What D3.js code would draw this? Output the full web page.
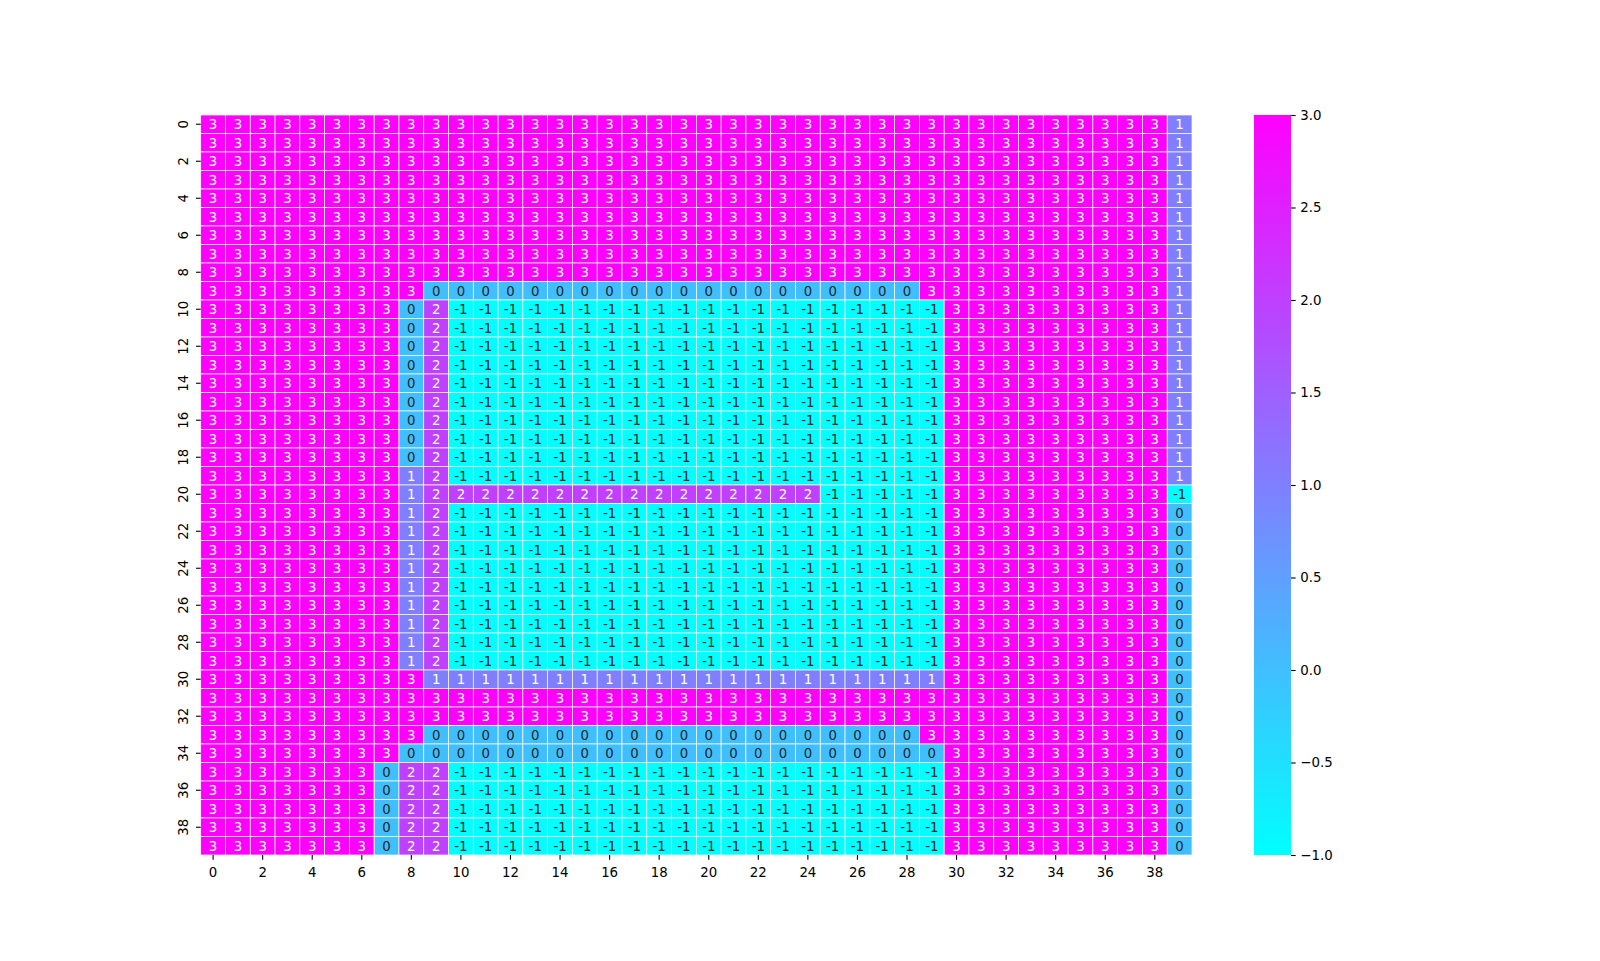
<!DOCTYPE html>
<html>
<head>
<meta charset="utf-8">
<script src="https://cdn.jsdelivr.net/npm/d3@7"></script>
<style>
  html, body { margin: 0; padding: 0; background: #fff; }
  svg { display: block; font-family: "DejaVu Sans", sans-serif; }
</style>
</head>
<body>
<svg id="chart" width="1600" height="961"></svg>
<script>
// ---- data ----
const rowLabels = d3.range(40);          // row indices 0..39
const colLabels = d3.range(40);          // column indices 0..39
const xTickLabels = ["0","2","4","6","8","10","12","14","16","18","20","22","24","26","28","30","32","34","36","38"];
const yTickLabels = ["0","2","4","6","8","10","12","14","16","18","20","22","24","26","28","30","32","34","36","38"];
const cbarTicks = [-1.0, -0.5, 0.0, 0.5, 1.0, 1.5, 2.0, 2.5, 3.0];

const values = [
  [3,3,3,3,3,3,3,3,3,3, 3,3,3,3,3,3,3,3,3,3, 3,3,3,3,3,3,3,3,3,3, 3,3,3,3,3,3,3,3,3,1], // 0
  [3,3,3,3,3,3,3,3,3,3, 3,3,3,3,3,3,3,3,3,3, 3,3,3,3,3,3,3,3,3,3, 3,3,3,3,3,3,3,3,3,1], // 1
  [3,3,3,3,3,3,3,3,3,3, 3,3,3,3,3,3,3,3,3,3, 3,3,3,3,3,3,3,3,3,3, 3,3,3,3,3,3,3,3,3,1], // 2
  [3,3,3,3,3,3,3,3,3,3, 3,3,3,3,3,3,3,3,3,3, 3,3,3,3,3,3,3,3,3,3, 3,3,3,3,3,3,3,3,3,1], // 3
  [3,3,3,3,3,3,3,3,3,3, 3,3,3,3,3,3,3,3,3,3, 3,3,3,3,3,3,3,3,3,3, 3,3,3,3,3,3,3,3,3,1], // 4
  [3,3,3,3,3,3,3,3,3,3, 3,3,3,3,3,3,3,3,3,3, 3,3,3,3,3,3,3,3,3,3, 3,3,3,3,3,3,3,3,3,1], // 5
  [3,3,3,3,3,3,3,3,3,3, 3,3,3,3,3,3,3,3,3,3, 3,3,3,3,3,3,3,3,3,3, 3,3,3,3,3,3,3,3,3,1], // 6
  [3,3,3,3,3,3,3,3,3,3, 3,3,3,3,3,3,3,3,3,3, 3,3,3,3,3,3,3,3,3,3, 3,3,3,3,3,3,3,3,3,1], // 7
  [3,3,3,3,3,3,3,3,3,3, 3,3,3,3,3,3,3,3,3,3, 3,3,3,3,3,3,3,3,3,3, 3,3,3,3,3,3,3,3,3,1], // 8
  [3,3,3,3,3,3,3,3,3,0, 0,0,0,0,0,0,0,0,0,0, 0,0,0,0,0,0,0,0,0,3, 3,3,3,3,3,3,3,3,3,1], // 9
  [3,3,3,3,3,3,3,3,0,2, -1,-1,-1,-1,-1,-1,-1,-1,-1,-1, -1,-1,-1,-1,-1,-1,-1,-1,-1,-1, 3,3,3,3,3,3,3,3,3,1], // 10
  [3,3,3,3,3,3,3,3,0,2, -1,-1,-1,-1,-1,-1,-1,-1,-1,-1, -1,-1,-1,-1,-1,-1,-1,-1,-1,-1, 3,3,3,3,3,3,3,3,3,1], // 11
  [3,3,3,3,3,3,3,3,0,2, -1,-1,-1,-1,-1,-1,-1,-1,-1,-1, -1,-1,-1,-1,-1,-1,-1,-1,-1,-1, 3,3,3,3,3,3,3,3,3,1], // 12
  [3,3,3,3,3,3,3,3,0,2, -1,-1,-1,-1,-1,-1,-1,-1,-1,-1, -1,-1,-1,-1,-1,-1,-1,-1,-1,-1, 3,3,3,3,3,3,3,3,3,1], // 13
  [3,3,3,3,3,3,3,3,0,2, -1,-1,-1,-1,-1,-1,-1,-1,-1,-1, -1,-1,-1,-1,-1,-1,-1,-1,-1,-1, 3,3,3,3,3,3,3,3,3,1], // 14
  [3,3,3,3,3,3,3,3,0,2, -1,-1,-1,-1,-1,-1,-1,-1,-1,-1, -1,-1,-1,-1,-1,-1,-1,-1,-1,-1, 3,3,3,3,3,3,3,3,3,1], // 15
  [3,3,3,3,3,3,3,3,0,2, -1,-1,-1,-1,-1,-1,-1,-1,-1,-1, -1,-1,-1,-1,-1,-1,-1,-1,-1,-1, 3,3,3,3,3,3,3,3,3,1], // 16
  [3,3,3,3,3,3,3,3,0,2, -1,-1,-1,-1,-1,-1,-1,-1,-1,-1, -1,-1,-1,-1,-1,-1,-1,-1,-1,-1, 3,3,3,3,3,3,3,3,3,1], // 17
  [3,3,3,3,3,3,3,3,0,2, -1,-1,-1,-1,-1,-1,-1,-1,-1,-1, -1,-1,-1,-1,-1,-1,-1,-1,-1,-1, 3,3,3,3,3,3,3,3,3,1], // 18
  [3,3,3,3,3,3,3,3,1,2, -1,-1,-1,-1,-1,-1,-1,-1,-1,-1, -1,-1,-1,-1,-1,-1,-1,-1,-1,-1, 3,3,3,3,3,3,3,3,3,1], // 19
  [3,3,3,3,3,3,3,3,1,2, 2,2,2,2,2,2,2,2,2,2, 2,2,2,2,2,-1,-1,-1,-1,-1, 3,3,3,3,3,3,3,3,3,-1], // 20
  [3,3,3,3,3,3,3,3,1,2, -1,-1,-1,-1,-1,-1,-1,-1,-1,-1, -1,-1,-1,-1,-1,-1,-1,-1,-1,-1, 3,3,3,3,3,3,3,3,3,0], // 21
  [3,3,3,3,3,3,3,3,1,2, -1,-1,-1,-1,-1,-1,-1,-1,-1,-1, -1,-1,-1,-1,-1,-1,-1,-1,-1,-1, 3,3,3,3,3,3,3,3,3,0], // 22
  [3,3,3,3,3,3,3,3,1,2, -1,-1,-1,-1,-1,-1,-1,-1,-1,-1, -1,-1,-1,-1,-1,-1,-1,-1,-1,-1, 3,3,3,3,3,3,3,3,3,0], // 23
  [3,3,3,3,3,3,3,3,1,2, -1,-1,-1,-1,-1,-1,-1,-1,-1,-1, -1,-1,-1,-1,-1,-1,-1,-1,-1,-1, 3,3,3,3,3,3,3,3,3,0], // 24
  [3,3,3,3,3,3,3,3,1,2, -1,-1,-1,-1,-1,-1,-1,-1,-1,-1, -1,-1,-1,-1,-1,-1,-1,-1,-1,-1, 3,3,3,3,3,3,3,3,3,0], // 25
  [3,3,3,3,3,3,3,3,1,2, -1,-1,-1,-1,-1,-1,-1,-1,-1,-1, -1,-1,-1,-1,-1,-1,-1,-1,-1,-1, 3,3,3,3,3,3,3,3,3,0], // 26
  [3,3,3,3,3,3,3,3,1,2, -1,-1,-1,-1,-1,-1,-1,-1,-1,-1, -1,-1,-1,-1,-1,-1,-1,-1,-1,-1, 3,3,3,3,3,3,3,3,3,0], // 27
  [3,3,3,3,3,3,3,3,1,2, -1,-1,-1,-1,-1,-1,-1,-1,-1,-1, -1,-1,-1,-1,-1,-1,-1,-1,-1,-1, 3,3,3,3,3,3,3,3,3,0], // 28
  [3,3,3,3,3,3,3,3,1,2, -1,-1,-1,-1,-1,-1,-1,-1,-1,-1, -1,-1,-1,-1,-1,-1,-1,-1,-1,-1, 3,3,3,3,3,3,3,3,3,0], // 29
  [3,3,3,3,3,3,3,3,3,1, 1,1,1,1,1,1,1,1,1,1, 1,1,1,1,1,1,1,1,1,1, 3,3,3,3,3,3,3,3,3,0], // 30
  [3,3,3,3,3,3,3,3,3,3, 3,3,3,3,3,3,3,3,3,3, 3,3,3,3,3,3,3,3,3,3, 3,3,3,3,3,3,3,3,3,0], // 31
  [3,3,3,3,3,3,3,3,3,3, 3,3,3,3,3,3,3,3,3,3, 3,3,3,3,3,3,3,3,3,3, 3,3,3,3,3,3,3,3,3,0], // 32
  [3,3,3,3,3,3,3,3,3,0, 0,0,0,0,0,0,0,0,0,0, 0,0,0,0,0,0,0,0,0,3, 3,3,3,3,3,3,3,3,3,0], // 33
  [3,3,3,3,3,3,3,3,0,0, 0,0,0,0,0,0,0,0,0,0, 0,0,0,0,0,0,0,0,0,0, 3,3,3,3,3,3,3,3,3,0], // 34
  [3,3,3,3,3,3,3,0,2,2, -1,-1,-1,-1,-1,-1,-1,-1,-1,-1, -1,-1,-1,-1,-1,-1,-1,-1,-1,-1, 3,3,3,3,3,3,3,3,3,0], // 35
  [3,3,3,3,3,3,3,0,2,2, -1,-1,-1,-1,-1,-1,-1,-1,-1,-1, -1,-1,-1,-1,-1,-1,-1,-1,-1,-1, 3,3,3,3,3,3,3,3,3,0], // 36
  [3,3,3,3,3,3,3,0,2,2, -1,-1,-1,-1,-1,-1,-1,-1,-1,-1, -1,-1,-1,-1,-1,-1,-1,-1,-1,-1, 3,3,3,3,3,3,3,3,3,0], // 37
  [3,3,3,3,3,3,3,0,2,2, -1,-1,-1,-1,-1,-1,-1,-1,-1,-1, -1,-1,-1,-1,-1,-1,-1,-1,-1,-1, 3,3,3,3,3,3,3,3,3,0], // 38
  [3,3,3,3,3,3,3,0,2,2, -1,-1,-1,-1,-1,-1,-1,-1,-1,-1, -1,-1,-1,-1,-1,-1,-1,-1,-1,-1, 3,3,3,3,3,3,3,3,3,0]  // 39
];

// ---- layout ----
const X0 = 200.7, X1 = 1192, Y0 = 115, Y1 = 855;
const CB_X0 = 1254, CB_X1 = 1291;
const vmin = -1, vmax = 3;
const FS = 13.33;
const TICK = 4.67, PAD = 4.67;

// matplotlib "cool" colormap: r = t, g = 1 - t, b = 1
function cool(t) {
  t = Math.max(0, Math.min(1, t));
  const i = Math.round(t * 255);
  return d3.rgb(i, 255 - i, 255);
}
const norm = d3.scaleLinear().domain([vmin, vmax]).range([0, 1]).clamp(true);
const color = v => cool(norm(v));

function textColor(v) {
  const c = color(v);
  const f = x => { x /= 255; return x <= 0.03928 ? x / 12.92 : Math.pow((x + 0.055) / 1.055, 2.4); };
  const lum = 0.2126 * f(c.r) + 0.7152 * f(c.g) + 0.0722 * f(c.b);
  return lum > 0.408 ? "#262626" : "#ffffff";
}

const svg = d3.select("#chart");

const x = d3.scaleBand().domain(colLabels).range([X0, X1]).padding(0);
const y = d3.scaleBand().domain(rowLabels).range([Y0, Y1]).padding(0);

const cells = [];
values.forEach((row, r) => row.forEach((v, c) => cells.push({ r, c, v })));

const gCells = svg.append("g");
gCells.selectAll("rect")
  .data(cells)
  .join("rect")
  .attr("x", d => x(d.c))
  .attr("y", d => y(d.r))
  .attr("width", x.bandwidth())
  .attr("height", y.bandwidth())
  .attr("fill", d => color(d.v))
  .attr("stroke", "#ffffff")
  .attr("stroke-width", 0.7);

const gText = svg.append("g");
gText.selectAll("text")
  .data(cells)
  .join("text")
  .attr("x", d => x(d.c) + x.bandwidth() / 2)
  .attr("y", d => y(d.r) + y.bandwidth() / 2)
  .attr("text-anchor", "middle")
  .attr("dy", "0.36em")
  .attr("font-size", FS)
  .attr("fill", d => textColor(d.v))
  .text(d => String(d.v));

// ---- x axis ----
const gx = svg.append("g");
const xt = gx.selectAll("g").data(xTickLabels).join("g")
  .attr("transform", d => `translate(${x(+d) + x.bandwidth() / 2},${Y1})`);
xt.append("line").attr("y1", 0).attr("y2", TICK).attr("stroke", "#000").attr("stroke-width", 1.1);
xt.append("text")
  .attr("y", TICK + PAD + FS * 0.93)
  .attr("text-anchor", "middle")
  .attr("font-size", FS)
  .attr("fill", "#000")
  .text(d => d);

// ---- y axis ----
const gy = svg.append("g");
const yt = gy.selectAll("g").data(yTickLabels).join("g")
  .attr("transform", d => `translate(${X0},${y(+d) + y.bandwidth() / 2})`);
yt.append("line").attr("x1", 0).attr("x2", -TICK).attr("stroke", "#000").attr("stroke-width", 1.1);
yt.append("text")
  .attr("transform", `translate(${-(TICK + PAD + 8.2)},0) rotate(-90)`)
  .attr("text-anchor", "middle")
  .attr("dy", "0.36em")
  .attr("font-size", FS)
  .attr("fill", "#000")
  .text(d => d);

// ---- colorbar ----
const defs = svg.append("defs");
const grad = defs.append("linearGradient")
  .attr("id", "cbgrad").attr("x1", 0).attr("y1", 1).attr("x2", 0).attr("y2", 0);
d3.range(0, 1.0001, 0.05).forEach(t => {
  grad.append("stop").attr("offset", t).attr("stop-color", cool(t));
});
const cbScale = d3.scaleLinear().domain([vmin, vmax]).range([Y1, Y0]);
svg.append("rect")
  .attr("x", CB_X0).attr("y", Y0)
  .attr("width", CB_X1 - CB_X0).attr("height", Y1 - Y0)
  .attr("fill", "url(#cbgrad)");

const cbAxis = d3.axisRight(cbScale)
  .tickValues(cbarTicks)
  .tickSize(TICK)
  .tickPadding(PAD)
  .tickFormat(v => d3.format(".1f")(v).replace("-", "\u2212"));
const gcb = svg.append("g").attr("transform", `translate(${CB_X1},0)`).call(cbAxis);
gcb.select(".domain").remove();
gcb.selectAll("line").attr("stroke", "#000").attr("stroke-width", 1.1);
gcb.selectAll("text")
  .attr("font-size", FS)
  .attr("font-family", "DejaVu Sans, sans-serif")
  .attr("fill", "#000");
</script>
</body>
</html>
